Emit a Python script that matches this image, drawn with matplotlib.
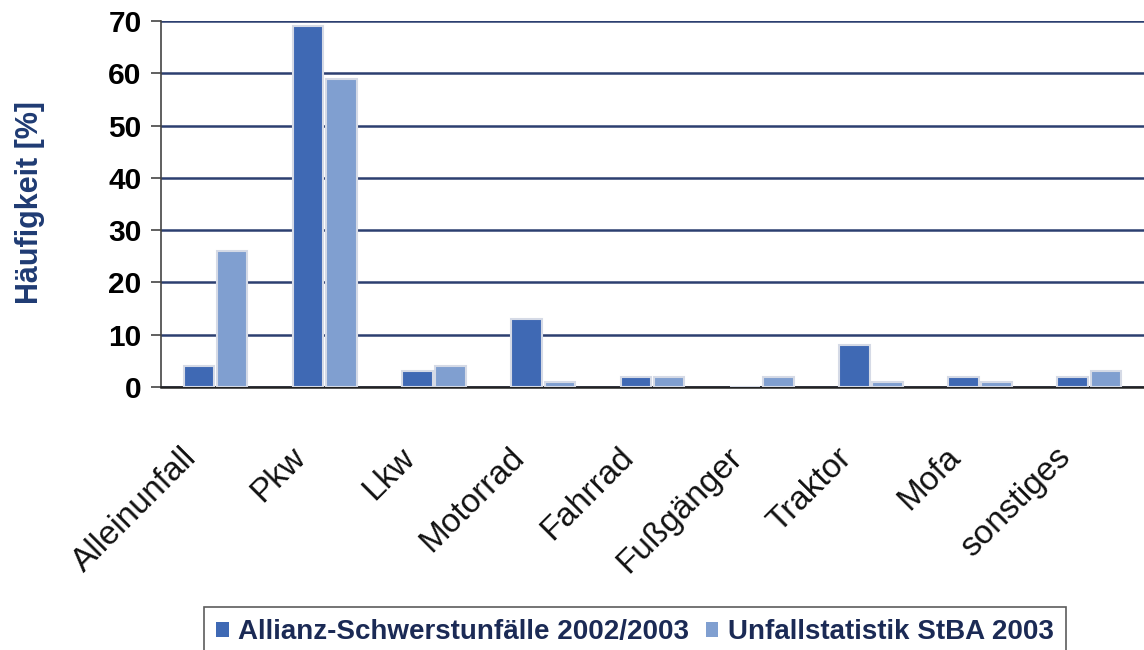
import matplotlib
matplotlib.use("Agg")
import matplotlib.pyplot as plt
import matplotlib.transforms as mtransforms
import numpy as np

# Kategorien und Werte (Häufigkeit in %)
categories = ["Alleinunfall", "Pkw", "Lkw", "Motorrad", "Fahrrad",
              "Fußgänger", "Traktor", "Mofa", "sonstiges"]
allianz = [4, 69, 3, 13, 2, 0, 8, 2, 2]
stba = [26, 59, 4, 1, 2, 2, 1, 1, 3]
series_names = ["Allianz-Schwerstunfälle 2002/2003", "Unfallstatistik StBA 2003"]
yticks = [0, 10, 20, 30, 40, 50, 60, 70]

plt.rcParams['font.family'] = ['Liberation Sans', 'DejaVu Sans']

fig = plt.figure(figsize=(11.44, 6.5), dpi=100)
ax = fig.add_axes([0.1407, 0.4046, 0.8593, 0.5631])

x = np.arange(len(categories))
w = 0.28
ax.bar(x - w / 2 - 0.012, allianz, w, color='#3F69B4', edgecolor='#D5DAE6',
       linewidth=1.5, label=series_names[0], zorder=3)
ax.bar(x + w / 2 + 0.012, stba, w, color='#809FD0', edgecolor='#D5DAE6',
       linewidth=1.5, label=series_names[1], zorder=3)

ax.set_xlim(-0.5, len(categories) - 0.5)
ax.set_ylim(0, 70)
ax.set_yticks(yticks)
ax.set_yticklabels([str(t) for t in yticks], fontsize=21.5, fontweight='bold')
ax.yaxis.grid(True, color='#2C3F70', linewidth=1.8, zorder=0)
ax.set_axisbelow(True)

for s in ['top', 'right']:
    ax.spines[s].set_visible(False)
ax.spines['left'].set_color('#444444')
ax.spines['left'].set_linewidth(1.2)
ax.spines['bottom'].set_color('#222222')
ax.spines['bottom'].set_linewidth(1.8)
ax.tick_params(axis='y', length=7, width=1.2, color='#444444', pad=7)
ax.tick_params(axis='x', length=0)

ax.set_xticks(x)
ax.set_xticklabels(categories, fontsize=24, rotation=45, ha='right', va='top',
                   rotation_mode='anchor', color='#111111')
offset = mtransforms.ScaledTranslation(-0.35, -0.50, fig.dpi_scale_trans)
for lbl in ax.get_xticklabels():
    lbl.set_transform(lbl.get_transform() + offset)

ax.set_ylabel("Häufigkeit [%]", fontsize=22, fontweight='bold', color='#1F3B73')
ax.yaxis.set_label_coords(-0.118, 0.505)

leg = fig.legend(loc='center', bbox_to_anchor=(635 / 1144, 1 - 632 / 650), ncol=2,
                 frameon=True, fancybox=False, edgecolor='#333333',
                 prop={'size': 20, 'weight': 'bold'}, handlelength=0.45,
                 handleheight=0.45, handletextpad=0.35, columnspacing=0.6,
                 borderpad=0.45, borderaxespad=0)
leg.get_frame().set_linewidth(1.2)
for t in leg.get_texts():
    t.set_color('#1B2A55')
for h in leg.legend_handles:
    h.set_edgecolor('none')

fig.savefig("out.png", dpi=100)
